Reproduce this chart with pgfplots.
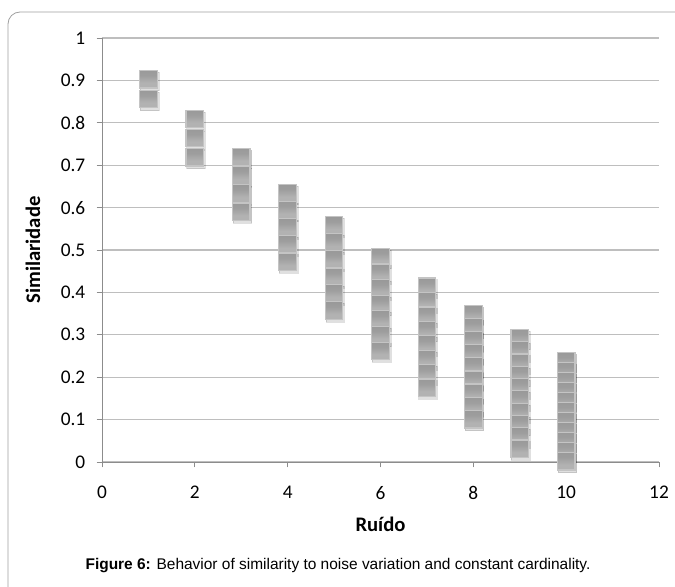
\documentclass[border=0pt]{standalone}
\usepackage{pgfplots}
\pgfplotsset{compat=1.18}
\usepackage{fontspec}
\setmainfont{Carlito}
\newfontfamily\arial{Liberation Sans}
\definecolor{gridc}{RGB}{190,190,190}
\definecolor{axc}{RGB}{140,140,140}
\definecolor{frc}{RGB}{160,160,160}
\definecolor{mtop}{RGB}{145,145,145}
\definecolor{mmid}{RGB}{158,158,158}
\definecolor{mbot}{RGB}{178,178,178}
\definecolor{medge}{RGB}{196,196,196}
\pgfdeclareverticalshading{msh}{100bp}{color(0bp)=(mbot); color(40bp)=(mbot); color(60bp)=(mmid); color(100bp)=(mtop)}
\pgfdeclareplotmark{gsq}{%
  \pgfpathrectangle{\pgfpoint{-\pgfplotmarksize}{-\pgfplotmarksize}}{\pgfpoint{2\pgfplotmarksize}{2\pgfplotmarksize}}%
  \pgfshadepath{msh}{0}%
  \pgfusepath{stroke}%
}
\pgfplotstableread{
x y
1 0.903
1 0.856
2 0.809
2 0.764
2 0.719
3 0.719
3 0.676
3 0.633
3 0.590
4 0.634
4 0.594
4 0.553
4 0.513
4 0.472
5 0.558
5 0.518
5 0.478
5 0.437
5 0.397
5 0.357
6 0.483
6 0.446
6 0.409
6 0.372
6 0.336
6 0.299
6 0.262
7 0.413
7 0.379
7 0.345
7 0.311
7 0.277
7 0.243
7 0.209
7 0.175
8 0.349
8 0.318
8 0.287
8 0.256
8 0.225
8 0.194
8 0.163
8 0.132
8 0.101
9 0.292
9 0.263
9 0.234
9 0.205
9 0.176
9 0.147
9 0.118
9 0.089
9 0.060
9 0.031
10 0.238
10 0.214
10 0.191
10 0.167
10 0.144
10 0.120
10 0.096
10 0.073
10 0.049
10 0.026
10 0.002
}\simdata
\begin{document}
\begin{tikzpicture}[x=0.75pt,y=0.75pt]
\useasboundingbox (0,0) rectangle (675,586);
\fill[white] (0,0) rectangle (675,586);
\begin{scope}
\clip (0,0) rectangle (675,586);
\draw[frc, line width=0.6pt, rounded corners=9pt] (8,-20) rectangle (700,574);
\end{scope}
\begin{axis}[
  at={(76.5pt,93pt)}, anchor=south west,
  scale only axis,
  width=417.75pt, height=318pt,
  xmin=0, xmax=12, ymin=0, ymax=1,
  xtick={0,2,...,12}, ytick={0,0.1,...,1.0001},
  yticklabels={0,0.1,0.2,0.3,0.4,0.5,0.6,0.7,0.8,0.9,1},
  axis x line*=bottom, axis y line*=left,
  axis line style={axc, line width=0.6pt},
  ymajorgrids, grid style={gridc, line width=0.8pt},
  tick align=outside, major tick length=4pt,
  tick style={axc, line width=0.6pt},
  /pgf/number format/assume math mode=true,
  tick label style={font=\fontsize{14.5}{17}\selectfont, text=black},
  xticklabel style={yshift=-10.5pt},
  yticklabel style={xshift=-5pt},
  xlabel={Ruído}, ylabel={Similaridade},
  every axis x label/.style={at={(axis description cs:0.5,0)}, anchor=center, yshift=-46.5pt, font=\fontsize{15.5}{17}\selectfont\bfseries},
  every axis y label/.style={at={(axis description cs:-0.1239,0.5)}, rotate=90, anchor=center, font=\fontsize{15.5}{17}\selectfont\bfseries},
  clip=false,
]
\addplot[only marks, mark=square*, mark size=7pt, mark options={fill=black, draw=none, opacity=0.12, xshift=0.8pt, yshift=-1.6pt}] table[x=x,y=y] {\simdata};
\addplot[only marks, mark=gsq, mark size=6.6pt, mark options={draw=medge, line width=0.9pt}] table[x=x,y=y] {\simdata};
\end{axis}
\node[font=\arial\fontsize{11.6}{13}\selectfont] at (338,20) {\textbf{Figure 6:} Behavior of similarity to noise variation and constant cardinality.};
\end{tikzpicture}
\end{document}
